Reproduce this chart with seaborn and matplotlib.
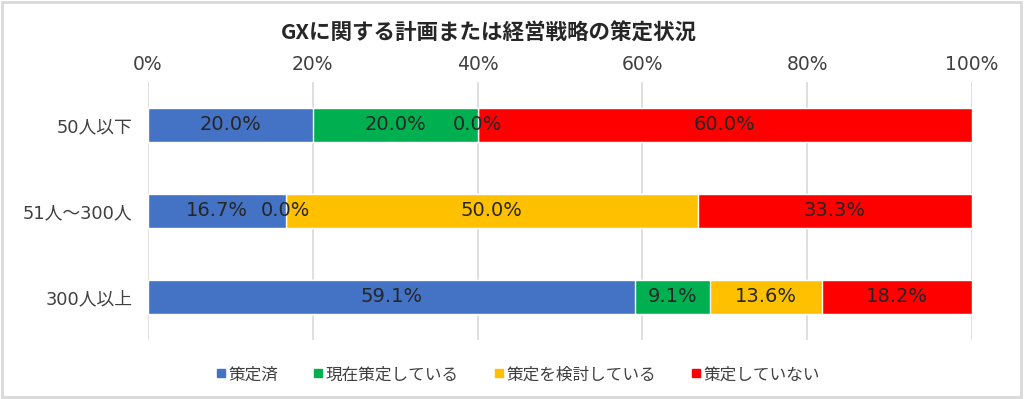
import pandas as pd
import matplotlib.pyplot as plt
import seaborn as sns
from matplotlib.lines import Line2D
from matplotlib.patches import Rectangle

# data (percent)
groups = ["50人以下", "51人～300人", "300人以上"]
series_names = ["策定済", "現在策定している", "策定を検討している", "策定していない"]
done = [20.0, 16.7, 59.1]
in_progress = [20.0, 0.0, 9.1]
considering = [0.0, 50.0, 13.6]
not_done = [60.0, 33.3, 18.2]
colors = ["#4472C4", "#00B050", "#FFC000", "#FF0000"]
xticks = [0, 20, 40, 60, 80, 100]

sns.set_style("white")
# latin digits in DejaVu (wide, like the original), kanji/kana from Noto CJK
plt.rcParams["font.family"] = ["DejaVu Sans", "Noto Sans CJK JP"]

values = [done, in_progress, considering, not_done]

# cumulative totals for the stacked look
cum = []
running = [0.0] * len(groups)
for vals in values:
    running = [r + v for r, v in zip(running, vals)]
    cum.append(running)

fig = plt.figure(figsize=(10.24, 3.99), dpi=100)
ax = fig.add_axes([0.1445, 0.148, 0.8047, 0.6466])

# draw longest cumulative first so shorter ones sit on top
for i in range(len(values) - 1, -1, -1):
    df = pd.DataFrame({"group": groups, "total": cum[i]})
    sns.barplot(data=df, x="total", y="group", orient="h", color=colors[i],
                width=0.4, saturation=1, ax=ax, zorder=3)

# value labels centred in each segment
for i, vals in enumerate(values):
    for j, v in enumerate(vals):
        start = cum[i][j] - v
        ax.text(start + v / 2, j, f"{v:.1f}%", ha="center", va="center",
                fontsize=14, color="#262626", zorder=5)

ax.set_xlim(0, 100)
ax.set_ylim(2.5, -0.5)
ax.set_xticks(xticks)
ax.set_xticklabels([f"{t}%" for t in xticks])
ax.xaxis.tick_top()
ax.tick_params(axis="x", length=0, pad=6, labelsize=13.5, colors="#404040")
ax.tick_params(axis="y", length=0, pad=11, labelsize=12.8, colors="#404040")
ax.set_xlabel("")
ax.set_ylabel("")
ax.grid(axis="x", color="#D9D9D9", linewidth=1.2, zorder=0)
ax.set_axisbelow(True)
for s in ax.spines.values():
    s.set_visible(False)

fig.text(0.477, 0.918, "GXに関する計画または経営戦略の策定状況", ha="center",
         va="center", fontsize=15.5, fontweight="bold", color="#262626",
         family=["Noto Sans CJK JP", "DejaVu Sans"])

handles = [Line2D([0], [0], marker="s", linestyle="none", markersize=6,
                  markerfacecolor=c, markeredgecolor=c) for c in colors]
fig.legend(handles, series_names, loc="center", bbox_to_anchor=(0.505, 0.062),
           ncol=4, frameon=False, fontsize=12, handletextpad=0.05,
           columnspacing=2.0, handlelength=0.8, labelcolor="#404040")

# light outer border like the original chart frame
fig.patches.append(Rectangle((0.002, 0.004), 0.995, 0.99, transform=fig.transFigure,
                             fill=False, edgecolor="#D9D9D9", linewidth=2))

fig.savefig("out.png", dpi=100)
